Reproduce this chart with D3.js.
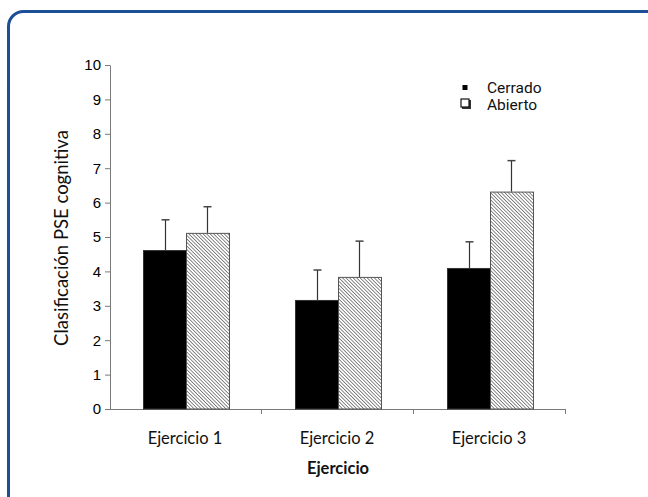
<!DOCTYPE html>
<html>
<head>
<meta charset="utf-8">
<script src="https://cdn.jsdelivr.net/npm/d3@7"></script>
<style>
  html, body { margin: 0; padding: 0; background: #fff; }
  svg { display: block; }
</style>
</head>
<body>
<svg id="chart" width="648" height="497"></svg>
<script>
// Exercise categories and the two condition series (mean score + upper error)
const categories = ["Ejercicio 1", "Ejercicio 2", "Ejercicio 3"];
const seriesNames = ["Cerrado", "Abierto"];
const cerradoValues = [4.62, 3.17, 4.10];
const cerradoErrors = [0.88, 0.87, 0.76];
const abiertoValues = [5.12, 3.84, 6.32];
const abiertoErrors = [0.76, 1.04, 0.90];
const yTicks = [0, 1, 2, 3, 4, 5, 6, 7, 8, 9, 10];

const svg = d3.select("#chart");

// Rounded blue panel frame
svg.append("rect")
  .attr("x", 8.5).attr("y", 11.5)
  .attr("width", 680).attr("height", 500)
  .attr("rx", 15).attr("ry", 15)
  .attr("fill", "#fff")
  .attr("stroke", "#1d4f96")
  .attr("stroke-width", 3);

// Diagonal hatch for the "Abierto" bars
const defs = svg.append("defs");
const pat = defs.append("pattern")
  .attr("id", "hatch")
  .attr("patternUnits", "userSpaceOnUse")
  .attr("width", 2.5).attr("height", 2.5)
  .attr("patternTransform", "rotate(-45)");
pat.append("rect").attr("width", 2.5).attr("height", 2.5).attr("fill", "#fff");
pat.append("line")
  .attr("x1", 0).attr("y1", 0).attr("x2", 0).attr("y2", 2.5)
  .attr("stroke", "#4a4a4a").attr("stroke-width", 1.3);

const plot = { left: 110, right: 566, top: 65, bottom: 409 };

const x = d3.scaleBand()
  .domain(categories)
  .range([plot.left, plot.right])
  .paddingInner(0).paddingOuter(0);

const inner = d3.scaleBand()
  .domain(seriesNames)
  .range([0, x.bandwidth()])
  .paddingOuter(0.77)
  .paddingInner(0);

const y = d3.scaleLinear().domain([0, 10]).range([plot.bottom, plot.top]);

// Y axis
const yAxis = svg.append("g")
  .attr("transform", `translate(${plot.left},0)`)
  .call(d3.axisLeft(y).tickValues(yTicks).tickSize(5).tickSizeOuter(0).tickPadding(4));
yAxis.select(".domain").attr("stroke", "#7a7a7a");
yAxis.selectAll(".tick line").attr("stroke", "#7a7a7a");
yAxis.selectAll(".tick text")
  .attr("font-family", "Liberation Sans, Arial, sans-serif")
  .attr("font-size", 15).attr("fill", "#000");

// X axis with ticks between categories
const xBoundaries = [plot.left, ...categories.map(c => x(c) + x.bandwidth())];
const xAxis = svg.append("g").attr("transform", `translate(0,${plot.bottom})`);
xAxis.append("line")
  .attr("x1", plot.left).attr("x2", plot.right)
  .attr("y1", 0.5).attr("y2", 0.5)
  .attr("stroke", "#7a7a7a");
xAxis.selectAll("line.tk").data(xBoundaries.slice(1)).join("line")
  .attr("class", "tk")
  .attr("x1", d => d - 0.5).attr("x2", d => d - 0.5)
  .attr("y1", 0).attr("y2", 5)
  .attr("stroke", "#7a7a7a");
xAxis.selectAll("text").data(categories).join("text")
  .attr("x", d => x(d) + x.bandwidth() / 2 - 1)
  .attr("y", 35)
  .attr("text-anchor", "middle")
  .attr("font-family", "Lato, sans-serif")
  .attr("font-size", 16.5)
  .attr("fill", "#111")
  .text(d => d);

// Bars
const rows = categories.map((c, i) => ({
  cat: c,
  vals: [
    { name: "Cerrado", v: cerradoValues[i], e: cerradoErrors[i] },
    { name: "Abierto", v: abiertoValues[i], e: abiertoErrors[i] }
  ]
}));

const groups = svg.selectAll("g.grp").data(rows).join("g")
  .attr("class", "grp")
  .attr("transform", d => `translate(${x(d.cat)},0)`);

groups.selectAll("rect").data(d => d.vals).join("rect")
  .attr("x", d => Math.round(inner(d.name)) + 0.5)
  .attr("y", d => y(d.v) + 0.5)
  .attr("width", Math.round(inner.bandwidth()))
  .attr("height", d => y(0) - y(d.v) - 0.5)
  .attr("fill", d => d.name === "Cerrado" ? "#000" : "url(#hatch)")
  .attr("stroke", d => d.name === "Cerrado" ? "#333" : "#555")
  .attr("stroke-width", 1);

// Upper error bars
groups.selectAll("g.err").data(d => d.vals).join("g")
  .attr("class", "err")
  .each(function (d) {
    const g = d3.select(this);
    const cx = Math.round(inner(d.name) + inner.bandwidth() / 2) + 0.5;
    g.append("line")
      .attr("x1", cx).attr("x2", cx)
      .attr("y1", y(d.v)).attr("y2", y(d.v + d.e))
      .attr("stroke", "#333").attr("stroke-width", 1.2);
    g.append("line")
      .attr("x1", cx - 4).attr("x2", cx + 4)
      .attr("y1", y(d.v + d.e)).attr("y2", y(d.v + d.e))
      .attr("stroke", "#444").attr("stroke-width", 1.5);
  });

// Axis titles
svg.append("text")
  .attr("transform", `translate(68,${(plot.top + plot.bottom) / 2 + 1}) rotate(-90)`)
  .attr("text-anchor", "middle")
  .attr("font-family", "Lato, sans-serif")
  .attr("font-size", 18.5)
  .attr("fill", "#111")
  .text("Clasificación PSE cognitiva");

svg.append("text")
  .attr("x", (plot.left + plot.right) / 2)
  .attr("y", 474)
  .attr("text-anchor", "middle")
  .attr("font-family", "Lato, sans-serif")
  .attr("font-weight", "bold")
  .attr("font-size", 16.5)
  .attr("fill", "#111")
  .text("Ejercicio");

// Legend
const legend = svg.append("g").attr("transform", "translate(460,86)");
legend.append("rect")
  .attr("x", 2.5).attr("y", -1).attr("width", 5).attr("height", 5)
  .attr("fill", "#000");
legend.append("text")
  .attr("x", 27).attr("y", 7)
  .attr("font-family", "Roboto, sans-serif")
  .attr("font-size", 15.5).attr("fill", "#111")
  .text(seriesNames[0]);
legend.append("rect")
  .attr("x", 2).attr("y", 14).attr("width", 9).attr("height", 9)
  .attr("fill", "#333");
legend.append("rect")
  .attr("x", 1).attr("y", 13).attr("width", 8).attr("height", 8)
  .attr("fill", "#fff").attr("stroke", "#111").attr("stroke-width", 1.2);
legend.append("text")
  .attr("x", 27).attr("y", 24)
  .attr("font-family", "Roboto, sans-serif")
  .attr("font-size", 15.5).attr("fill", "#111")
  .text(seriesNames[1]);
</script>
</body>
</html>
